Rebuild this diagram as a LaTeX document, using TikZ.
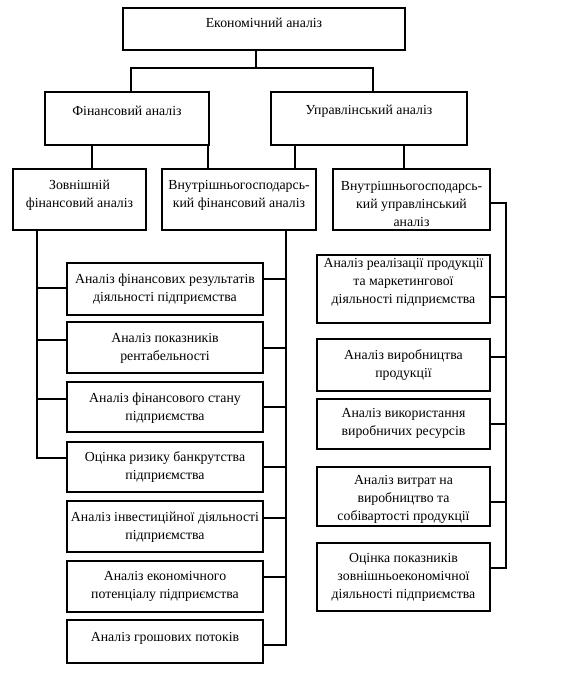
\documentclass[tikz,border=0pt]{standalone}
\usepackage{fontspec}
\setmainfont{Liberation Serif}
\usetikzlibrary{fit}
\tikzset{
  box/.style={draw, line width=1.1pt, inner sep=0pt, rectangle},
  txt/.style={inner sep=0pt, align=center, font=\fontsize{13.8}{18}\selectfont},
  link/.style={line width=1.1pt}
}
\newcommand\bx[7]{%
  \node[box, fit={(#2,#3) (#4,#5)}] (#1) {};
  \node[txt] (#1t) at ({(#2+#4)/2},#6) {#7};}
\begin{document}
\begin{tikzpicture}[x=1pt,y=-1pt]
\useasboundingbox (0,0) rectangle (566,676);
\fill[white] (0,0) rectangle (566,676);
% level 1-3
\bx{top}{123}{8}{405}{50}{23}{Економічний аналіз}
\bx{fin}{45}{92}{209}{145}{111}{Фінансовий аналіз}
\bx{upr}{271}{92}{467}{145}{111}{Управлінський аналіз}
\bx{zovn}{13}{169}{146}{230}{195}{Зовнішній\\фінансовий аналіз}
\bx{vf}{162}{169}{316}{230}{195}{Внутрішньогосподарсь-\\кий фінансовий аналіз}
\bx{vu}{333}{169}{490}{230}{204}{Внутрішньогосподарсь-\\кий управлінський\\аналіз}
% left column
\bx{l1}{67}{263}{263}{315}{289}{Аналіз фінансових результатів\\діяльності підприємства}
\bx{l2}{67}{322}{263}{373}{348}{Аналіз показників\\рентабельності}
\bx{l3}{67}{382}{263}{432}{408}{Аналіз фінансового стану\\підприємства}
\bx{l4}{67}{442}{263}{492}{467}{Оцінка ризику банкрутства\\підприємства}
\bx{l5}{67}{501}{263}{552}{527}{Аналіз інвестиційної діяльності\\підприємства}
\bx{l6}{67}{561}{263}{612}{586}{Аналіз економічного\\потенціалу підприємства}
\bx{l7}{67}{620}{263}{663}{638}{Аналіз грошових потоків}
% right column
\bx{r1}{317}{255}{490}{323}{282}{Аналіз реалізації продукції\\та маркетингової\\діяльності підприємства}
\bx{r2}{317}{339}{490}{391}{365}{Аналіз виробництва\\продукції}
\bx{r3}{317}{399}{490}{449}{423}{Аналіз використання\\виробничих ресурсів}
\bx{r4}{317}{467}{490}{526}{499}{Аналіз витрат на\\виробництво та\\собівартості продукції}
\bx{r5}{317}{543}{490}{611}{577}{Оцінка показників\\зовнішньоекономічної\\діяльності підприємства}
% connectors top
\coordinate (j1) at (256,68);
\draw[link] (top.south -| j1) -- (j1);
\draw[link] (fin.north -| 131,0) |- (j1) -| (upr.north -| 373,0);
\draw[link] (fin.south -| 92,0) -- (zovn.north -| 92,0);
\draw[link] (fin.south -| 208,0) -- (vf.north -| 208,0);
\draw[link] (upr.south -| 295,0) -- (vf.north -| 295,0);
\draw[link] (upr.south -| 404,0) -- (vu.north -| 404,0);
% left spine
\coordinate (ls) at (37,458);
\draw[link] (zovn.south -| ls) -- (ls) -- (l4.west |- ls);
\draw[link] (l1.west |- 0,288) -- (ls |- 0,288);
\draw[link] (l2.west |- 0,340) -- (ls |- 0,340);
\draw[link] (l3.west |- 0,399) -- (ls |- 0,399);
% middle spine
\coordinate (ms) at (286,645);
\draw[link] (vf.south -| ms) -- (ms) -- (l7.east |- ms);
\draw[link] (l1.east |- 0,279) -- (ms |- 0,279);
\draw[link] (l2.east |- 0,348) -- (ms |- 0,348);
\draw[link] (l3.east |- 0,407) -- (ms |- 0,407);
\draw[link] (l4.east |- 0,467) -- (ms |- 0,467);
\draw[link] (l5.east |- 0,518) -- (ms |- 0,518);
\draw[link] (l6.east |- 0,577) -- (ms |- 0,577);
% right spine
\coordinate (rs) at (506,568);
\draw[link] (vu.east |- 0,203) -| (rs) -- (r5.east |- rs);
\draw[link] (r1.east |- 0,297) -- (rs |- 0,297);
\draw[link] (r2.east |- 0,357) -- (rs |- 0,357);
\draw[link] (r3.east |- 0,424) -- (rs |- 0,424);
\draw[link] (r4.east |- 0,502) -- (rs |- 0,502);
\end{tikzpicture}
\end{document}
